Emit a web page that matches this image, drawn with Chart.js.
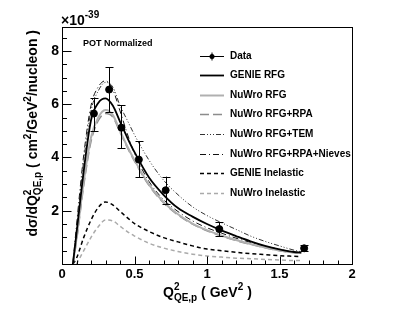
<!DOCTYPE html>
<html>
<head>
<meta charset="utf-8">
<script src="https://cdn.jsdelivr.net/npm/chart.js@4.4.0/dist/chart.umd.min.js"></script>
<style>
    html, body { margin: 0; padding: 0; background: #fff; }
</style>
</head>
<body>
<canvas id="xsec_canvas" width="415" height="311"></canvas>
<script>
// Q2 grid for the model curves (GeV^2)
const q2_grid = [0.075, 0.1, 0.15, 0.2, 0.25, 0.3, 0.35, 0.4, 0.45, 0.5, 0.6, 0.7, 0.8, 0.9, 1.0, 1.1, 1.2, 1.3, 1.4, 1.5, 1.6, 1.65];

// model predictions, units of 1e-39 cm2/GeV2/nucleon
const genie_rfg = [0, 1.15, 3.5, 5.4, 6.05, 6.22, 5.95, 5.35, 4.75, 4.2, 3.25, 2.6, 2.1, 1.78, 1.5, 1.26, 1.05, 0.85, 0.68, 0.55, 0.45, 0.43];
const nuwro_rfg = [0, 0.95, 3.1, 4.75, 5.5, 5.78, 5.6, 5.0, 4.42, 3.9, 2.98, 2.33, 1.87, 1.52, 1.27, 1.07, 0.9, 0.75, 0.62, 0.51, 0.43, 0.41];
const nuwro_rfg_rpa = [0, 0.85, 2.95, 4.6, 5.38, 5.65, 5.52, 4.95, 4.38, 3.86, 2.95, 2.3, 1.84, 1.5, 1.25, 1.05, 0.88, 0.74, 0.61, 0.5, 0.42, 0.4];
const nuwro_rfg_tem = [0, 1.3, 3.9, 5.75, 6.5, 6.82, 6.65, 5.95, 5.4, 4.85, 3.9, 3.15, 2.6, 2.15, 1.82, 1.55, 1.3, 1.05, 0.85, 0.68, 0.52, 0.46];
const nuwro_rfg_rpa_nieves = [0, 1.45, 4.1, 5.95, 6.65, 6.88, 6.55, 5.75, 4.9, 4.15, 3.1, 2.42, 1.97, 1.62, 1.36, 1.16, 0.97, 0.81, 0.67, 0.55, 0.45, 0.42];
const genie_inelastic = [0, 0.22, 1.0, 1.65, 2.12, 2.33, 2.22, 1.98, 1.74, 1.52, 1.22, 0.99, 0.83, 0.68, 0.56, 0.5, 0.44, 0.39, 0.35, 0.31, 0.29, 0.28];
const nuwro_inelastic = [null, 0, 0.5, 1.0, 1.4, 1.65, 1.62, 1.42, 1.22, 1.05, 0.78, 0.6, 0.47, 0.37, 0.3, 0.26, 0.22, 0.2, 0.17, 0.15, 0.13, 0.13];

// data points with error bar ends
const data_q2 = [0.22, 0.325, 0.41, 0.53, 0.715, 1.085, 1.67];
const data_xsec = [5.65, 6.55, 5.12, 3.92, 2.77, 1.31, 0.59];
const data_err_high = [6.25, 7.38, 5.96, 4.62, 3.28, 1.58, 0.70];
const data_err_low = [5.0, 5.7, 4.34, 3.25, 2.26, 1.05, 0.48];

const x_tick_values = [0, 0.5, 1, 1.5, 2];
const y_tick_values = [2, 4, 6, 8];

const font_name = "'Liberation Sans', Arial, Helvetica, sans-serif";

function curve(values) {
    return q2_grid.map((q, i) => ({x: q, y: values[i]}));
}

function model_dataset(label, values, color, width, dash) {
    return {
        type: 'line',
        label: label,
        data: curve(values),
        borderColor: color,
        borderWidth: width,
        borderDash: dash,
        pointRadius: 0,
        fill: false,
        cubicInterpolationMode: 'monotone',
        spanGaps: false
    };
}

function draw_rich(ctx, x, y, parts) {
    // parts: {text, size, dy, stack}; stacked parts do not advance the pen
    let pen = x;
    let held = 0;
    for (const p of parts) {
        ctx.font = "bold " + p.size + "px " + font_name;
        const w = ctx.measureText(p.text).width;
        ctx.fillText(p.text, pen, y + (p.dy || 0));
        if (p.stack) {
            held = w;
        } else {
            pen += Math.max(w, held);
            held = 0;
        }
    }
    return pen - x;
}

function rich_width(ctx, parts) {
    let total = 0;
    let held = 0;
    for (const p of parts) {
        ctx.font = "bold " + p.size + "px " + font_name;
        const w = ctx.measureText(p.text).width;
        if (p.stack) { held = w; } else { total += Math.max(w, held); held = 0; }
    }
    return total;
}

const y_title_parts = [
    {text: "dσ/dQ", size: 14},
    {text: "2", size: 10, dy: -6, stack: true},
    {text: "QE,p", size: 10, dy: 4},
    {text: " ( cm", size: 14},
    {text: "2", size: 10, dy: -6},
    {text: "/GeV", size: 14},
    {text: "2", size: 10, dy: -6},
    {text: "/nucleon )", size: 14}
];

const x_title_parts = [
    {text: "Q", size: 14},
    {text: "2", size: 10, dy: -7, stack: true},
    {text: "QE,p", size: 10, dy: 4},
    {text: " ( GeV", size: 14},
    {text: "2", size: 10, dy: -7},
    {text: " )", size: 14}
];

const error_bar_plugin = {
    id: 'error_bar_plugin',
    afterDatasetsDraw(chart) {
        const ctx = chart.ctx;
        const xs = chart.scales.x;
        const ys = chart.scales.y;
        ctx.save();
        ctx.strokeStyle = '#000';
        ctx.lineWidth = 1;
        for (let i = 0; i < data_q2.length; i++) {
            const px = Math.round(xs.getPixelForValue(data_q2[i])) + 0.5;
            const top = ys.getPixelForValue(data_err_high[i]);
            const bottom = ys.getPixelForValue(data_err_low[i]);
            ctx.beginPath();
            ctx.moveTo(px, top);
            ctx.lineTo(px, bottom);
            ctx.moveTo(px - 4, Math.round(top) + 0.5);
            ctx.lineTo(px + 4, Math.round(top) + 0.5);
            ctx.moveTo(px - 4, Math.round(bottom) + 0.5);
            ctx.lineTo(px + 4, Math.round(bottom) + 0.5);
            ctx.stroke();
        }
        ctx.restore();
    }
};

const frame_plugin = {
    id: 'frame_plugin',
    afterDraw(chart) {
        const ctx = chart.ctx;
        const a = chart.chartArea;
        const xs = chart.scales.x;
        const ys = chart.scales.y;
        const left = Math.round(a.left) + 0.5;
        const right = Math.round(a.right) + 0.5;
        const top = Math.round(a.top) + 0.5;
        const bottom = Math.round(a.bottom) + 0.5;

        ctx.save();
        ctx.strokeStyle = '#000';
        ctx.lineWidth = 1;
        ctx.strokeRect(left, top, right - left, bottom - top);

        // inward ticks, ROOT style
        ctx.beginPath();
        for (let k = 0; k <= 20; k++) {
            const px = Math.round(xs.getPixelForValue(k * 0.1)) + 0.5;
            const len = (k % 5 === 0) ? 8 : 4;
            ctx.moveTo(px, bottom);
            ctx.lineTo(px, bottom - len);
        }
        for (let k = 0; k <= 17; k++) {
            const py = Math.round(ys.getPixelForValue(k * 0.5)) + 0.5;
            const len = (k % 4 === 0) ? 9 : 4.5;
            ctx.moveTo(left, py);
            ctx.lineTo(left + len, py);
        }
        ctx.stroke();

        ctx.fillStyle = '#000';
        ctx.textBaseline = 'alphabetic';
        ctx.textAlign = 'left';

        // exponent above the axis
        ctx.font = "bold 14px " + font_name;
        ctx.fillText("×10", 61, 25);
        const w = ctx.measureText("×10").width;
        ctx.font = "bold 10px " + font_name;
        ctx.fillText("-39", 61 + w, 18);

        ctx.font = "bold 9px " + font_name;
        ctx.fillText("POT Normalized", 83, 46);

        // x title
        draw_rich(ctx, 163, 297, x_title_parts);

        // y title, rotated
        const yw = rich_width(ctx, y_title_parts);
        ctx.save();
        ctx.translate(37, 30 + yw);
        ctx.rotate(-Math.PI / 2);
        draw_rich(ctx, 0, 0, y_title_parts);
        ctx.restore();

        // legend
        const row0 = 55.5;
        const step = 19.6;
        const datasets = chart.data.datasets;
        ctx.font = "bold 10px " + font_name;
        ctx.textBaseline = 'middle';
        for (let i = 0; i < datasets.length; i++) {
            const ds = datasets[i];
            const y = Math.round(row0 + i * step) + 0.5;
            ctx.save();
            if (ds.type === 'scatter') {
                ctx.strokeStyle = '#000';
                ctx.lineWidth = 1;
                ctx.beginPath();
                ctx.moveTo(200, y);
                ctx.lineTo(224, y);
                ctx.moveTo(212, y - 4);
                ctx.lineTo(212, y + 4);
                ctx.stroke();
                ctx.fillStyle = '#000';
                ctx.beginPath();
                ctx.arc(212, y, 2.5, 0, Math.PI * 2);
                ctx.fill();
            } else {
                ctx.strokeStyle = ds.borderColor;
                ctx.lineWidth = ds.borderWidth;
                ctx.setLineDash(ds.borderDash || []);
                ctx.beginPath();
                ctx.moveTo(200, y);
                ctx.lineTo(224, y);
                ctx.stroke();
            }
            ctx.restore();
            ctx.fillStyle = '#000';
            ctx.fillText(ds.label, 230, y);
        }
        ctx.restore();
    }
};

const config = {
    data: {
        datasets: [
            {
                type: 'scatter',
                label: "Data",
                data: data_q2.map((q, i) => ({x: q, y: data_xsec[i]})),
                backgroundColor: '#000',
                borderColor: '#000',
                pointRadius: 3.5,
                pointHoverRadius: 3.5
            },
            model_dataset("GENIE RFG", genie_rfg, '#000000', 1.8, []),
            model_dataset("NuWro RFG", nuwro_rfg, '#b0b0b0', 2, []),
            model_dataset("NuWro RFG+RPA", nuwro_rfg_rpa, '#8c8c8c', 1.5, [9, 4]),
            model_dataset("NuWro RFG+TEM", nuwro_rfg_tem, '#333333', 1, [5, 2, 1, 2, 1, 2, 1, 2]),
            model_dataset("NuWro RFG+RPA+Nieves", nuwro_rfg_rpa_nieves, '#111111', 1, [6, 3, 1, 3]),
            model_dataset("GENIE Inelastic", genie_inelastic, '#000000', 1.5, [4, 3]),
            model_dataset("NuWro Inelastic", nuwro_inelastic, '#aaaaaa', 1.5, [4, 3])
        ]
    },
    options: {
        responsive: false,
        devicePixelRatio: 1,
        animation: false,
        layout: {
            padding: {left: 0, right: 63, top: 27, bottom: 0}
        },
        plugins: {
            legend: {display: false},
            tooltip: {enabled: false},
            title: {display: false}
        },
        scales: {
            x: {
                type: 'linear',
                min: 0,
                max: 2,
                afterFit: (s) => { s.height = 47; },
                afterBuildTicks: (s) => { s.ticks = x_tick_values.map(v => ({value: v})); },
                grid: {display: false, drawTicks: false},
                border: {display: false},
                ticks: {
                    color: '#000',
                    padding: 3,
                    autoSkip: false,
                    maxRotation: 0,
                    font: {family: font_name, size: 13, weight: 'bold'},
                    callback: (v) => String(v)
                }
            },
            y: {
                type: 'linear',
                min: 0,
                max: 8.9,
                afterFit: (s) => { s.width = 62; },
                afterBuildTicks: (s) => { s.ticks = y_tick_values.map(v => ({value: v})); },
                grid: {display: false, drawTicks: false},
                border: {display: false},
                ticks: {
                    color: '#000',
                    padding: 3,
                    autoSkip: false,
                    font: {family: font_name, size: 14, weight: 'bold'},
                    callback: (v) => String(v)
                }
            }
        }
    },
    plugins: [error_bar_plugin, frame_plugin]
};

const xsec_plot = new Chart(document.getElementById('xsec_canvas'), config);
</script>
</body>
</html>
